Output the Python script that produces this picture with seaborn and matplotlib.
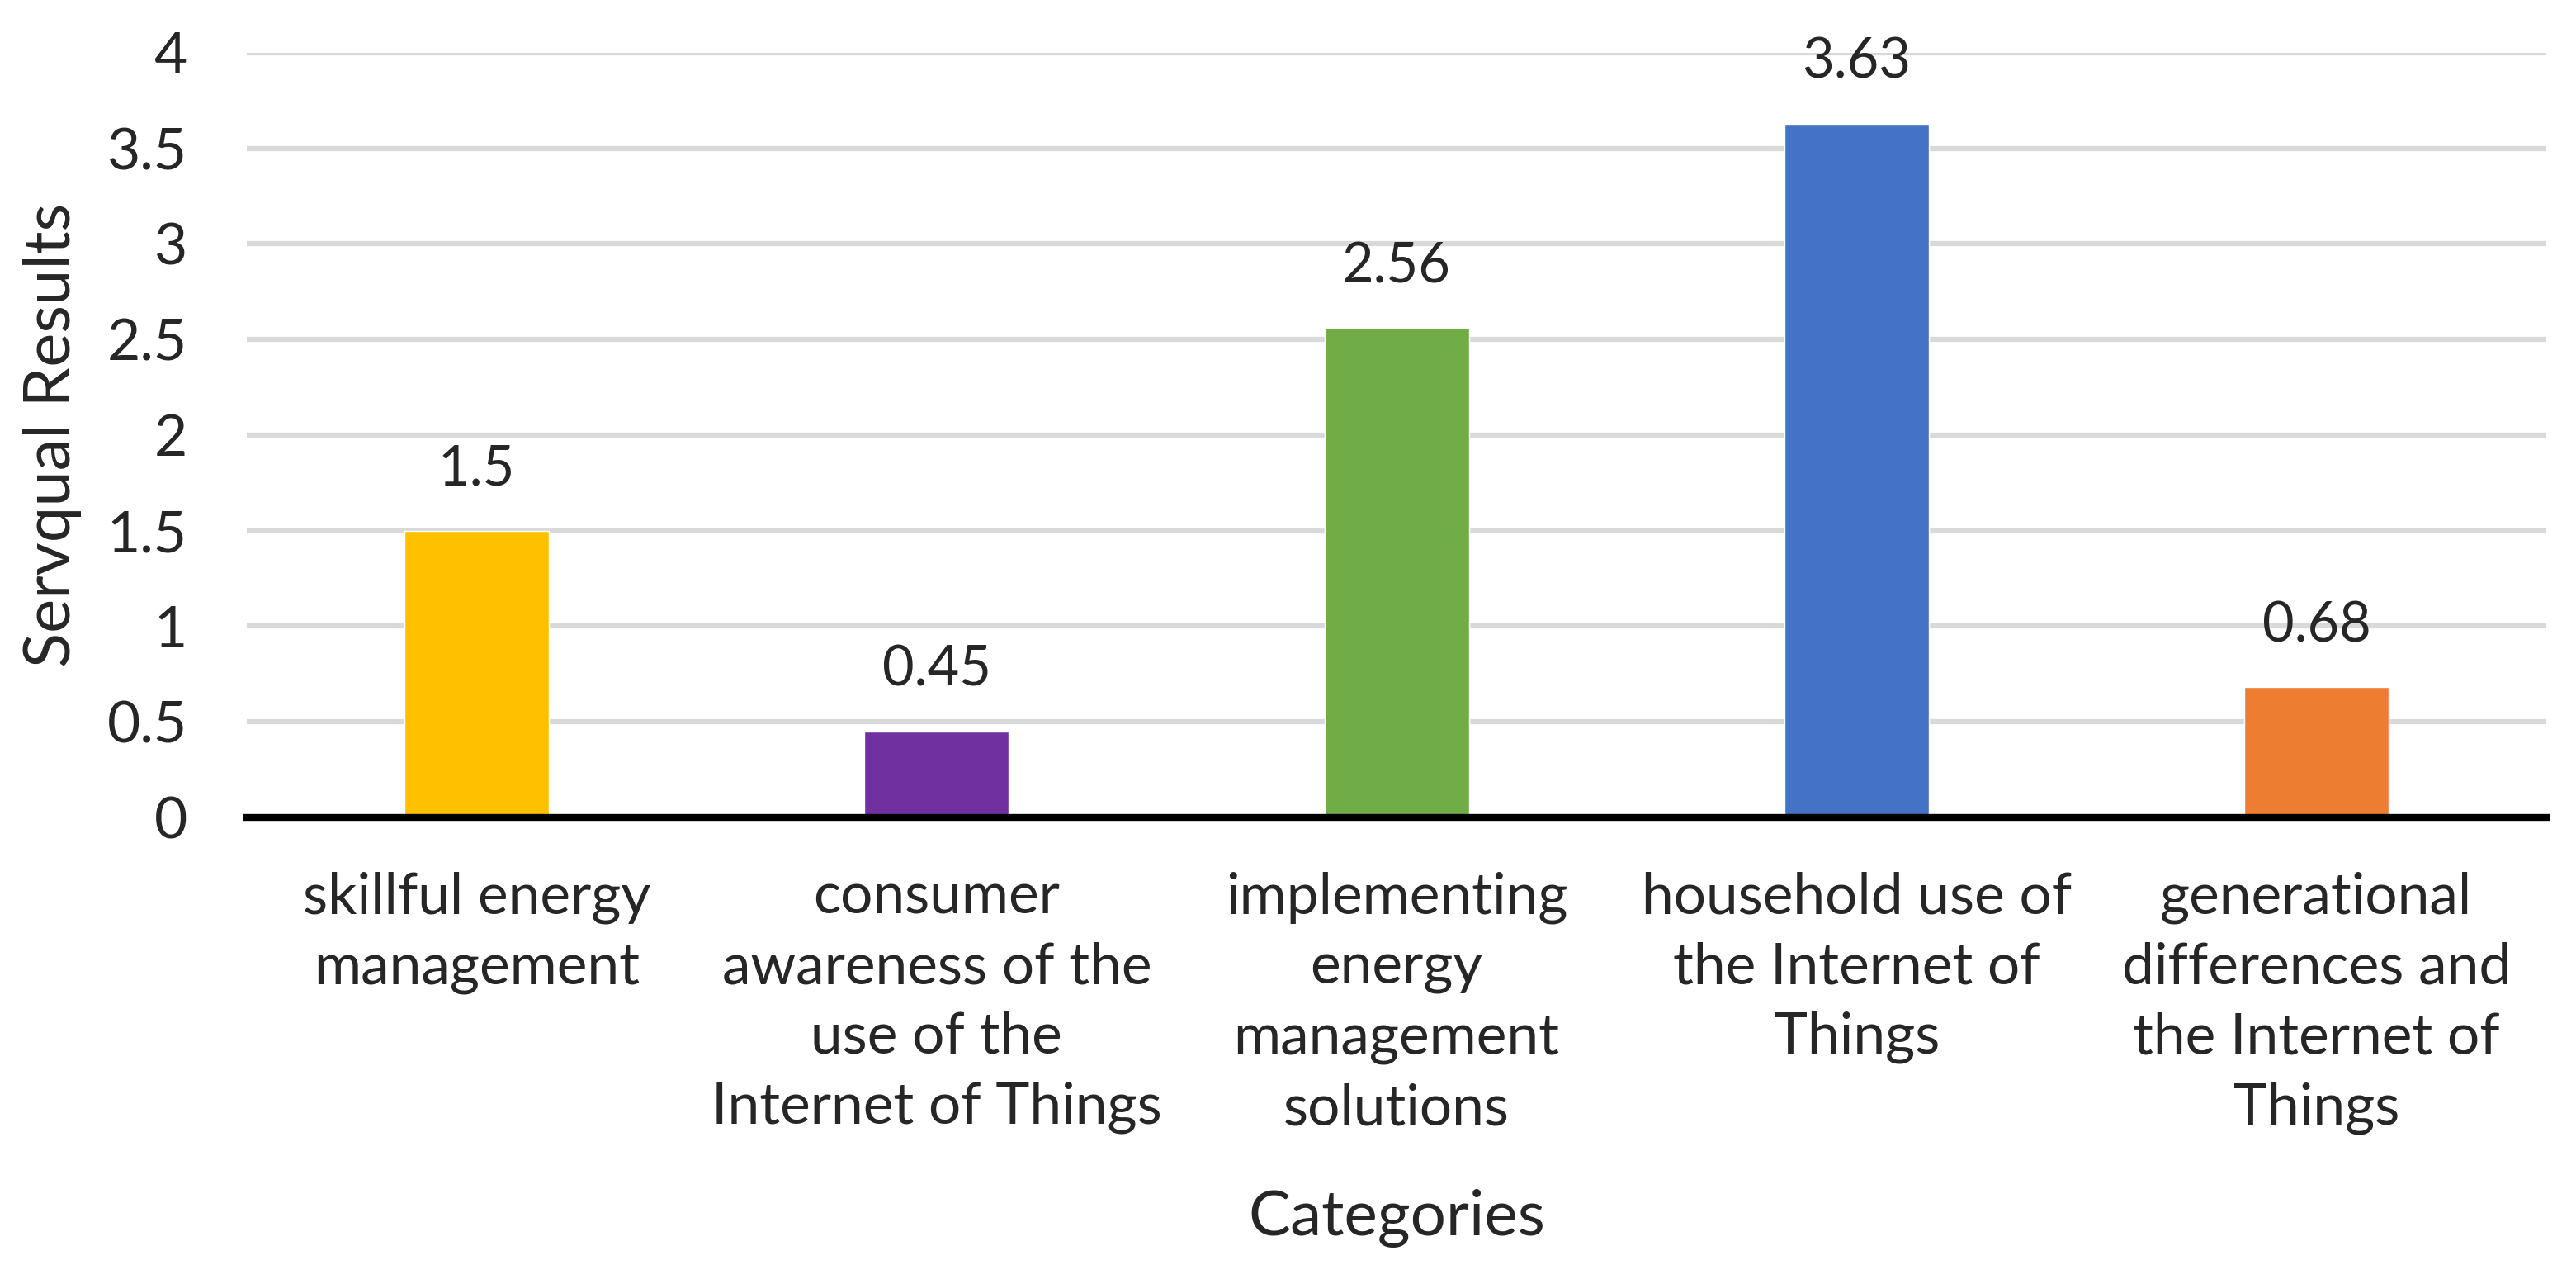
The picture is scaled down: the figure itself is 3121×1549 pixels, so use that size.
import numpy as np
import pandas as pd
import matplotlib
matplotlib.use("Agg")
import matplotlib.pyplot as plt
import seaborn as sns

# chart data
categories = ["skillful energy\nmanagement",
              "consumer\nawareness of the\nuse of the\nInternet of Things",
              "implementing\nenergy\nmanagement\nsolutions",
              "household use of\nthe Internet of\nThings",
              "generational\ndifferences and\nthe Internet of\nThings"]
values = [1.5, 0.45, 2.56, 3.63, 0.68]
value_labels = ["1.5", "0.45", "2.56", "3.63", "0.68"]
colors = ["#FFC000", "#7030A0", "#70AD47", "#4472C4", "#ED7D31"]
yticks = [0, 0.5, 1, 1.5, 2, 2.5, 3, 3.5, 4]
ytick_labels = ["0", "0.5", "1", "1.5", "2", "2.5", "3", "3.5", "4"]

sns.set_style("white")
plt.rcParams['font.family'] = ['Lato', 'DejaVu Sans']

df = pd.DataFrame({'category': categories, 'value': values})

fig = plt.figure(figsize=(31.21, 15.49), dpi=100)
ax = fig.add_axes([0.0958, 0.361, 0.8927, 0.5977])

sns.barplot(data=df, x='category', y='value', hue='category', palette=colors,
            width=0.314, legend=False, ax=ax, saturation=1)

ax.set_ylim(0, 4)
ax.set_xlim(-0.5, 4.5)
ax.set_yticks(yticks)
ax.set_yticklabels(ytick_labels)
ax.yaxis.grid(True, color='#D9D9D9', linewidth=4.5)
ax.set_axisbelow(True)
for s in ['top', 'right', 'left']:
    ax.spines[s].set_visible(False)
ax.spines['bottom'].set_color('black')
ax.spines['bottom'].set_linewidth(6)
ax.spines['bottom'].set_zorder(5)
ax.tick_params(axis='both', length=0, labelsize=50)
ax.tick_params(axis='y', pad=52)
ax.tick_params(axis='x', pad=47)
for lbl in ax.get_xticklabels():
    lbl.set_linespacing(1.43)

for i, v in enumerate(values):
    ax.annotate(value_labels[i], (i, v), xytext=(0, 31), textcoords='offset points',
                ha='center', va='bottom', fontsize=48)

ax.set_ylabel("Servqual Results", fontsize=56, labelpad=22)
ax.set_xlabel("Categories", fontsize=55, labelpad=47)

fig.savefig("out.png", dpi=100)
